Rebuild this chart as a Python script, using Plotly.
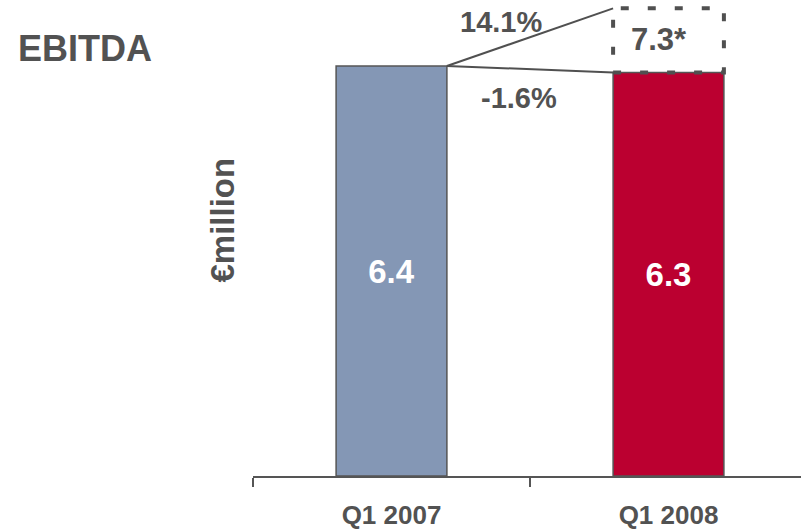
import plotly.graph_objects as go

# ---- data ----
categories = ["Q1 2007", "Q1 2008"]
ebitda = [6.4, 6.3]
adjusted_q1_2008 = 7.3
adjusted_label = "7.3*"
growth_labels = ["14.1%", "-1.6%"]
bar_colors = ["#8497B5", "#BB0030"]

TEXT = "#525252"
FONT = "Liberation Sans, Arial, sans-serif"

W, H = 801, 529
ml, mr, mt, mb = 253, 0, 0, 53
plot_h = H - mt - mb
px_per_unit = 64.06
ymax = plot_h / px_per_unit
cat_px = 277.0
xmax = -0.5 + (W - ml - mr) / cat_px

fig = go.Figure()
fig.add_trace(go.Bar(
    x=categories, y=ebitda, width=0.4,
    marker=dict(color=bar_colors, line=dict(color="#555555", width=1.5)),
    text=[f"{v:.1f}" for v in ebitda], textposition="inside",
    insidetextanchor="middle", textangle=0,
    textfont=dict(family=FONT, size=33, color="white", weight="bold"),
    hoverinfo="skip", showlegend=False,
))

half = 0.2
# dashed box for adjusted value
fig.add_shape(type="rect", xref="x", yref="y",
              x0=1 - half, x1=1 + half, y0=ebitda[1], y1=adjusted_q1_2008,
              line=dict(color="#505050", width=4, dash="8px,19px"),
              fillcolor="rgba(0,0,0,0)", layer="above")
# connector lines
fig.add_shape(type="line", xref="x", yref="y",
              x0=0 + half, y0=ebitda[0], x1=1 - half, y1=adjusted_q1_2008,
              line=dict(color="#505050", width=2))
fig.add_shape(type="line", xref="x", yref="y",
              x0=0 + half, y0=ebitda[0], x1=1 - half, y1=ebitda[1],
              line=dict(color="#505050", width=2))

ann_font = dict(family=FONT, color=TEXT, weight="bold")
fig.add_annotation(x=0.395, y=7.09, xref="x", yref="y", text=growth_labels[0],
                   showarrow=False, font=dict(size=29, **ann_font))
fig.add_annotation(x=0.46, y=5.90, xref="x", yref="y", text=growth_labels[1],
                   showarrow=False, font=dict(size=29, **ann_font))
fig.add_annotation(x=0.965, y=6.81, xref="x", yref="y", text=adjusted_label,
                   showarrow=False, font=dict(size=31, **ann_font))
fig.add_annotation(x=(16 - ml) / (W - ml - mr), y=(plot_h - 49) / plot_h,
                   xref="paper", yref="paper", xanchor="left", yanchor="middle",
                   text="EBITDA", showarrow=False, font=dict(size=36, **ann_font))
fig.add_annotation(x=(222 - ml) / (W - ml - mr), y=(plot_h - 220.5) / plot_h,
                   xref="paper", yref="paper", xanchor="center", yanchor="middle",
                   text="€million", textangle=-90, showarrow=False,
                   font=dict(size=33, **ann_font))

fig.update_layout(
    width=W, height=H,
    margin=dict(l=ml, r=mr, t=mt, b=mb, pad=0),
    paper_bgcolor="white", plot_bgcolor="white",
    xaxis=dict(type="category", range=[-0.5, xmax], tickson="boundaries",
               ticks="outside", ticklen=9, tickwidth=2, tickcolor="#555555",
               showline=True, linecolor="#555555", linewidth=2,
               showgrid=False, zeroline=False,
               tickfont=dict(family=FONT, size=26, color=TEXT, weight="bold"),
               ticklabelstandoff=15, fixedrange=True),
    yaxis=dict(range=[0, ymax], visible=False, showgrid=False, zeroline=False,
               fixedrange=True),
    bargap=0.6,
)

fig.write_html("out.html")
